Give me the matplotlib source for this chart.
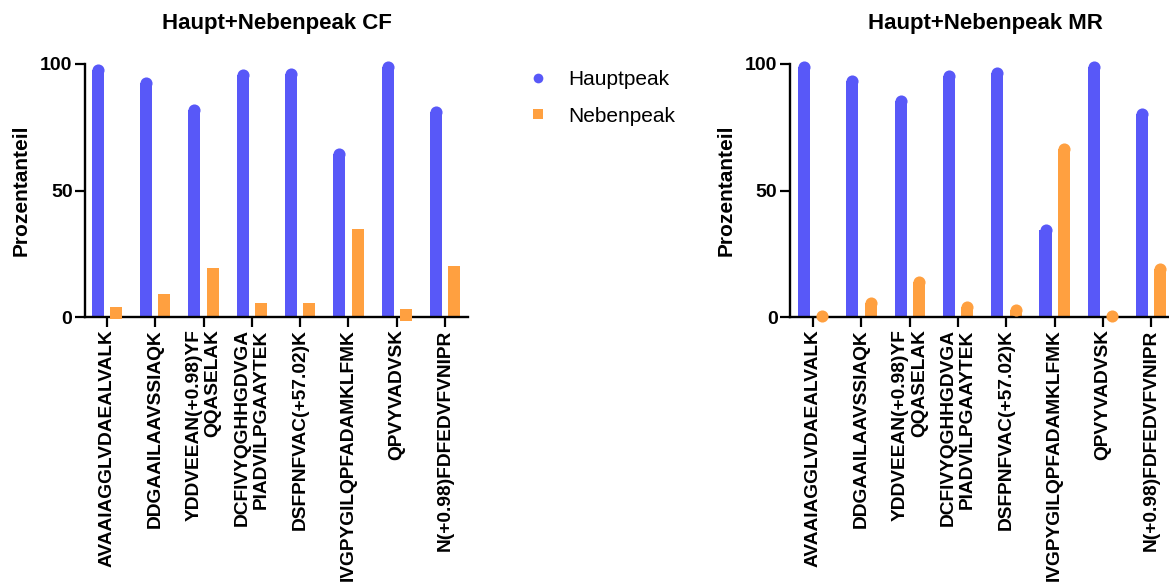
import matplotlib
matplotlib.use("Agg")
import matplotlib.pyplot as plt
import numpy as np
from matplotlib.lines import Line2D

plt.rcParams['font.family'] = ['Liberation Sans', 'DejaVu Sans']

peptides = [
    "AVAAIAGGLVDAEALVALK",
    "DDGAAILAAVSSIAQK",
    "YDDVEEAN(+0.98)YF\nQQASELAK",
    "DCFIVYQGHHGDVGA\nPIADVILPGAAYTEK",
    "DSFPNFVAC(+57.02)K",
    "IVGPYGILQPFADAMKLFMK",
    "QPVYVADVSK",
    "N(+0.98)FDFEDVFVNIPR",
]
cf_haupt = [97.5, 92.5, 82.0, 95.8, 96.0, 64.5, 98.8, 81.0]
cf_neben = [1.5, 6.7, 17.0, 3.1, 3.0, 32.5, 0.8, 17.8]
mr_haupt = [99.0, 93.2, 85.3, 95.2, 96.5, 34.5, 98.8, 80.2]
mr_neben = [0.4, 5.5, 13.8, 3.9, 2.7, 66.5, 0.3, 18.9]

blue = "#5858F8"
orange = "#FFA040"

fig = plt.figure(figsize=(11.69, 5.84), dpi=100)
W, H = 1169, 584
PX_PER_UNIT = 48.3

def make_ax(x0, xmin, xmax, title, haupt, neben, neben_marker):
    width_px = (xmax - xmin) * PX_PER_UNIT
    ax = fig.add_axes([x0 / W, 1 - 317 / H, width_px / W, (317 - 64) / H])
    x = np.arange(len(peptides))
    off = 0.19
    bw = 0.25
    ax.bar(x - off, haupt, width=bw, color=blue, zorder=2)
    ax.bar(x + off, neben, width=bw, color=orange, zorder=2)
    ax.plot(x - off, haupt, 'o', color=blue, ms=8.7, mew=0, zorder=3, clip_on=False)
    ax.plot(x + off, neben, neben_marker, color=orange,
            ms=8.7 if neben_marker == 'o' else 8.0, mew=0,
            zorder=3, clip_on=False)
    ax.set_ylim(0, 100)
    ax.set_xlim(xmin, xmax)
    ax.set_yticks([0, 50, 100])
    ax.set_yticklabels(["0", "50", "100"], fontsize=14, fontweight='bold')
    ax.set_xticks(x)
    ax.set_xticklabels(peptides, rotation=90, fontsize=13.8, fontweight='bold',
                       va='top', ha='center', multialignment='right',
                       linespacing=1.15)
    for s in ['top', 'right']:
        ax.spines[s].set_visible(False)
    for s in ['left', 'bottom']:
        ax.spines[s].set_linewidth(1.7)
    ax.tick_params(axis='both', width=1.6, length=7, direction='out', pad=2)
    ax.set_ylabel("Prozentanteil", fontsize=15, fontweight='bold', labelpad=7)
    ax.set_title(title, fontsize=16, fontweight='bold', pad=25)
    return ax

ax1 = make_ax(85, -0.455, 7.48, "Haupt+Nebenpeak CF", cf_haupt, cf_neben, 's')
ax2 = make_ax(790, -0.48, 7.6, "Haupt+Nebenpeak MR", mr_haupt, mr_neben, 'o')

handles = [
    Line2D([], [], marker='o', color=blue, linestyle='none', markersize=7, mew=0),
    Line2D([], [], marker='s', color=orange, linestyle='none', markersize=7, mew=0),
]
fig.legend(handles, ["Hauptpeak", "Nebenpeak"], loc='upper left',
           bbox_to_anchor=(517 / W, 1 - 70 / H), frameon=False, fontsize=15,
           handletextpad=0.45, labelspacing=0.85, borderaxespad=0, borderpad=0)

fig.savefig("out.png", dpi=100)
